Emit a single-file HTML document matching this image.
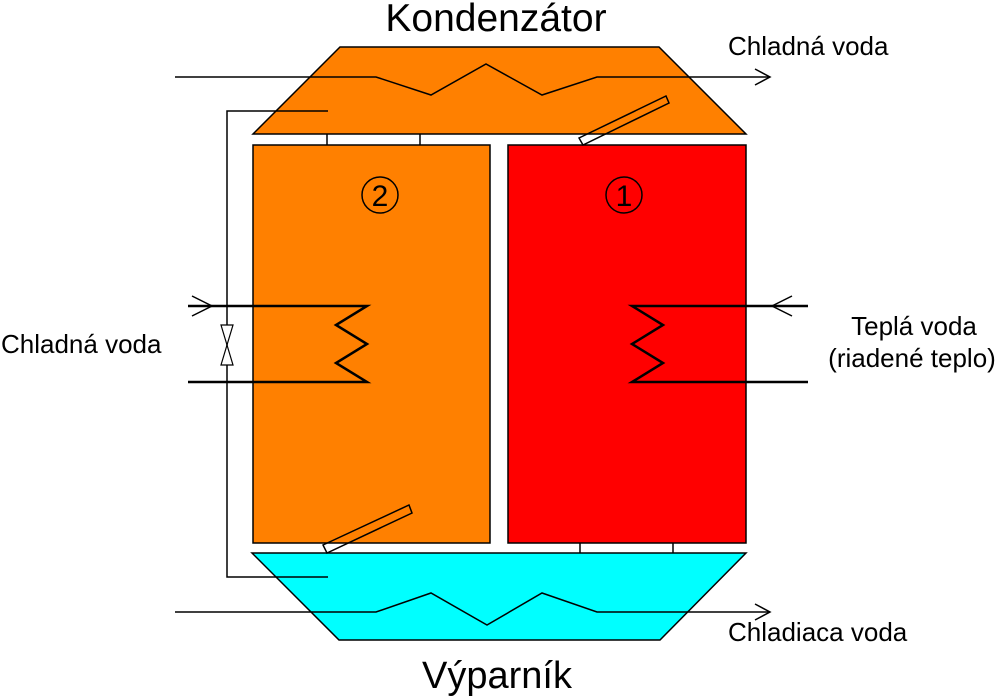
<!DOCTYPE html>
<html><head><meta charset="utf-8"><style>
html,body{margin:0;padding:0;background:#fff;}
svg{display:block;}
text{font-family:"Liberation Sans",sans-serif;fill:#000;}
</style></head><body>
<svg width="1000" height="696" viewBox="0 0 1000 696" xmlns="http://www.w3.org/2000/svg">
<text x="496" y="31" font-size="39" text-anchor="middle">Kondenzátor</text>
<text x="497" y="688" font-size="38" text-anchor="middle">Výparník</text>
<polygon points="340,47 659,47 746,134 253,134" fill="#ff8000" stroke="#000" stroke-width="1.5"/>
<polygon points="252,553 746,553 660,640 339,640" fill="#00ffff" stroke="#000" stroke-width="1.5"/>
<rect x="253" y="145" width="237" height="398" fill="#ff8000" stroke="#000" stroke-width="1.5"/>
<rect x="508" y="145" width="238" height="398" fill="#ff0000" stroke="#000" stroke-width="1.5"/>
<g stroke="#000" stroke-width="1.5" fill="none">
<line x1="327" y1="134" x2="327" y2="145"/><line x1="420" y1="134" x2="420" y2="145"/>
<line x1="580" y1="543" x2="580" y2="553"/><line x1="673" y1="543" x2="673" y2="553"/>
<polyline points="175,77 376,77 431,95 486,64 542,95 597,77 770,77"/>
<polyline points="755,69 770,77 755,85"/>
<polyline points="175,612 376,612 431,593 487,625 542,593 597,612 770,612"/>
<polyline points="755,604 770,612 755,620"/>
<polyline points="328,111 227,111 227,577 328,577"/>
<polygon points="579,138 666,96 669,103 583,145"/>
<polygon points="323,545 409,505 412,513 327,553"/>
<polygon points="221,325 233,325 221,365 233,365" fill="#fff" stroke-width="1.2"/>
</g>
<g stroke="#000" stroke-width="2.5" fill="none">
<polyline points="188,306 367,306 336,325 367,344 336,363 367,382 188,382"/>
<polyline points="808,306 632,306 663,325 632,344 663,363 632,382 808,382"/>
</g>
<g stroke="#000" stroke-width="1.5" fill="none">
<polyline points="192,296 212,306 192,316"/>
<polyline points="792,296 772,306 792,316"/>
<circle cx="380" cy="195" r="18"/>
<circle cx="624" cy="195" r="18"/>
</g>
<text x="380" y="206" font-size="30" text-anchor="middle">2</text>
<text x="624" y="206" font-size="30" text-anchor="middle">1</text>
<text x="728" y="55" font-size="26">Chladná voda</text>
<text x="728" y="641" font-size="26">Chladiaca voda</text>
<text x="1" y="353" font-size="26">Chladná voda</text>
<text x="914" y="335" font-size="26" text-anchor="middle">Teplá voda</text>
<text x="912" y="367" font-size="26" text-anchor="middle">(riadené teplo)</text>
</svg>
</body></html>
